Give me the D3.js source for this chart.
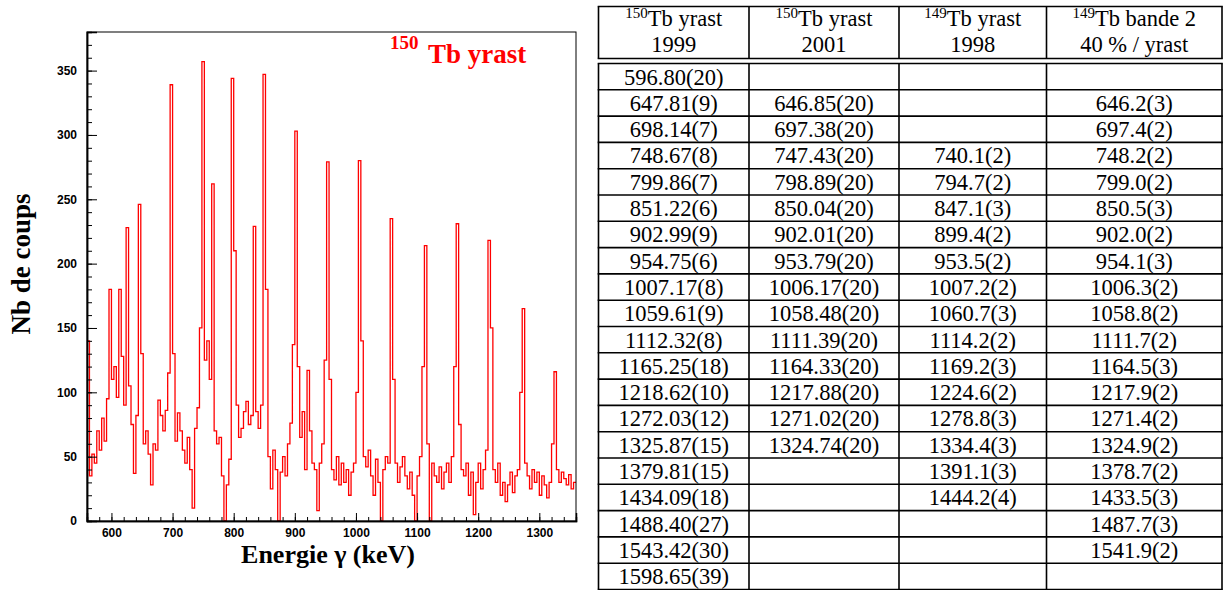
<!DOCTYPE html>
<html><head><meta charset="utf-8">
<script src="https://cdn.jsdelivr.net/npm/d3@7"></script>
<style>
html,body{margin:0;padding:0;background:#fff;}
svg{display:block;}
</style></head><body>
<svg id="c" width="1226" height="590"></svg>
<script>
// ---- spectrum data (counts per 4 keV bin, starting at 560 keV) ----
const binStartKeV = 560;
const binWidthKeV = 4;
const counts = [
 140,35,52,45,70,55,80,62,95,180,
 110,120,96,180,128,90,228,105,75,37,
 82,246,130,60,70,52,28,60,55,94,
 82,70,86,115,339,130,62,84,70,55,
 45,65,40,10,72,88,150,357,125,140,
 110,262,70,60,65,35,0,28,48,344,
 210,90,65,72,85,93,75,82,229,85,
 72,90,347,180,50,25,55,40,0,38,
 50,35,60,76,137,303,120,65,85,40,
 117,70,45,40,8,45,60,125,279,110,
 40,32,50,28,45,30,40,20,38,45,
 100,280,140,50,42,55,35,20,48,30,
 0,40,50,45,235,110,45,30,42,50,
 35,25,38,20,0,35,50,120,214,60,
 0,45,35,30,42,25,38,45,30,50,
 120,231,75,40,35,45,20,38,5,30,
 45,25,40,55,218,150,40,30,45,20,
 30,15,28,38,22,35,40,100,165,45,
 35,25,40,30,38,20,35,28,18,30,
 60,116,40,30,38,33,28,36,25,30
];
const xDomain = [560, 1360];
const yDomain = [0, 380];
const xMajorTicks = [600,700,800,900,1000,1100,1200,1300];
const yMajorTicks = [0,50,100,150,200,250,300,350];
const plotTitleSup = "150";
const plotTitleMain = "Tb yrast";
const xLabel = "Energie \u03b3 (keV)";
const yLabel = "Nb de coups";

// ---- table data ----
const headSup = ["150","150","149","149"];
const headLine1 = ["Tb yrast","Tb yrast","Tb yrast","Tb bande 2"];
const headLine2 = ["1999","2001","1998","40 % / yrast"];
const tb150y1999 = ["596.80(20)","647.81(9)","698.14(7)","748.67(8)","799.86(7)","851.22(6)","902.99(9)","954.75(6)","1007.17(8)","1059.61(9)","1112.32(8)","1165.25(18)","1218.62(10)","1272.03(12)","1325.87(15)","1379.81(15)","1434.09(18)","1488.40(27)","1543.42(30)","1598.65(39)"];
const tb150y2001 = ["","646.85(20)","697.38(20)","747.43(20)","798.89(20)","850.04(20)","902.01(20)","953.79(20)","1006.17(20)","1058.48(20)","1111.39(20)","1164.33(20)","1217.88(20)","1271.02(20)","1324.74(20)","","","","",""];
const tb149y1998 = ["","","","740.1(2)","794.7(2)","847.1(3)","899.4(2)","953.5(2)","1007.2(2)","1060.7(3)","1114.2(2)","1169.2(3)","1224.6(2)","1278.8(3)","1334.4(3)","1391.1(3)","1444.2(4)","","",""];
const tb149b2 = ["","646.2(3)","697.4(2)","748.2(2)","799.0(2)","850.5(3)","902.0(2)","954.1(3)","1006.3(2)","1058.8(2)","1111.7(2)","1164.5(3)","1217.9(2)","1271.4(2)","1324.9(2)","1378.7(2)","1433.5(3)","1487.7(3)","1541.9(2)",""];
const tableCols = [tb150y1999, tb150y2001, tb149y1998, tb149b2];

const svg = d3.select("#c");

// ================= SPECTRUM =================
const L = 87, R = 576, T = 32, B = 521;
const x = d3.scaleLinear().domain(xDomain).range([L, R]);
const y = d3.scaleLinear().domain(yDomain).range([B, T]);

svg.append("defs").append("clipPath").attr("id","clip")
  .append("rect").attr("x",L).attr("y",T).attr("width",R-L).attr("height",B-T);

const pts = counts.map((c,i)=>[binStartKeV + i*binWidthKeV, c]);
pts.push([binStartKeV + counts.length*binWidthKeV, counts[counts.length-1]]);
const line = d3.line().x(d=>x(d[0])).y(d=>y(d[1])).curve(d3.curveStepAfter);
svg.append("path").attr("clip-path","url(#clip)")
  .attr("d", line(pts)).attr("fill","none").attr("stroke","#ff0000").attr("stroke-width",1.3);

// frame
svg.append("rect").attr("x",L).attr("y",T).attr("width",R-L).attr("height",B-T)
  .attr("fill","none").attr("stroke","#000").attr("stroke-width",1);

const tickFont = "'Liberation Sans', Arial, sans-serif";
const yMinor = svg.append("g").attr("transform",`translate(${L},0)`)
  .call(d3.axisLeft(y).tickValues(d3.range(0,381,10)).tickSize(-5).tickFormat(""));
const yMajor = svg.append("g").attr("transform",`translate(${L},0)`)
  .call(d3.axisLeft(y).tickValues(yMajorTicks).tickSize(-10).tickPadding(10).tickFormat(d3.format("d")));
const xMinor = svg.append("g").attr("transform",`translate(0,${B})`)
  .call(d3.axisBottom(x).tickValues(d3.range(560,1361,20)).tickSize(-4).tickFormat(""));
const xMajor = svg.append("g").attr("transform",`translate(0,${B})`)
  .call(d3.axisBottom(x).tickValues(xMajorTicks).tickSize(-8).tickPadding(7).tickFormat(d3.format("d")));
[yMinor,yMajor,xMinor,xMajor].forEach(g=>{
  g.select(".domain").attr("stroke","#000").attr("stroke-width",1.5);
  g.selectAll(".tick line").attr("stroke","#000").attr("stroke-width",1);
  g.selectAll("text").attr("font-family",tickFont).attr("font-weight","bold")
    .attr("font-size","12px").attr("fill","#000");
});

// title
const serif = "'Liberation Serif','Times New Roman',serif";
svg.append("text").attr("x",390).attr("y",49).attr("font-family",serif)
  .attr("font-weight","bold").attr("font-size","19px").attr("fill","#ff0000").text(plotTitleSup);
svg.append("text").attr("x",428).attr("y",63).attr("font-family",serif)
  .attr("font-weight","bold").attr("font-size","27px").attr("fill","#ff0000").text(plotTitleMain);

// axis labels
svg.append("text").attr("transform","translate(30,264) rotate(-90)")
  .attr("text-anchor","middle").attr("font-family",serif).attr("font-weight","bold")
  .attr("font-size","27px").attr("fill","#000").text(yLabel);
svg.append("text").attr("x",328).attr("y",563)
  .attr("text-anchor","middle").attr("font-family",serif).attr("font-weight","bold")
  .attr("font-size","26px").attr("fill","#000").text(xLabel);

// ================= TABLE =================
const colX = [598.5, 749, 899, 1046.5, 1222];
const headTop = 6.5, headBot = 58.5, bodyTop = 63.5, rowH = 26.3;
const nRows = tb150y1999.length;
const bodyBot = bodyTop + nRows*rowH;
const tg = svg.append("g");
const lw = 1.6;
[headTop, headBot].forEach(yy=>tg.append("line").attr("x1",colX[0]-lw/2).attr("x2",colX[4]+lw/2)
  .attr("y1",yy).attr("y2",yy).attr("stroke","#000").attr("stroke-width",lw));
colX.forEach(cx=>tg.append("line").attr("x1",cx).attr("x2",cx).attr("y1",headTop).attr("y2",headBot)
  .attr("stroke","#000").attr("stroke-width",lw));
d3.range(nRows+1).forEach(r=>{
  const yy = bodyTop + r*rowH;
  tg.append("line").attr("x1",colX[0]-lw/2).attr("x2",colX[4]+lw/2).attr("y1",yy).attr("y2",yy)
    .attr("stroke","#000").attr("stroke-width",lw);
});
colX.forEach(cx=>tg.append("line").attr("x1",cx).attr("x2",cx).attr("y1",bodyTop).attr("y2",bodyBot)
  .attr("stroke","#000").attr("stroke-width",lw));

const tfs = 22.5;
headLine1.forEach((h,i)=>{
  const cx = (colX[i]+colX[i+1])/2;
  const t = tg.append("text").attr("x",cx).attr("y",26).attr("text-anchor","middle")
    .attr("font-family",serif).attr("font-size",tfs+"px").attr("fill","#000");
  t.append("tspan").attr("font-size","15px").attr("dy",-8).text(headSup[i]);
  t.append("tspan").attr("dy",8).text(h);
  tg.append("text").attr("x",cx).attr("y",51.5).attr("text-anchor","middle")
    .attr("font-family",serif).attr("font-size",tfs+"px").attr("fill","#000").text(headLine2[i]);
});
tableCols.forEach((col,i)=>{
  const cx = (colX[i]+colX[i+1])/2;
  col.forEach((v,r)=>{
    if(!v) return;
    tg.append("text").attr("x",cx).attr("y",bodyTop + r*rowH + 21).attr("text-anchor","middle")
      .attr("font-family",serif).attr("font-size",tfs+"px").attr("fill","#000").text(v);
  });
});
</script>
</body></html>
